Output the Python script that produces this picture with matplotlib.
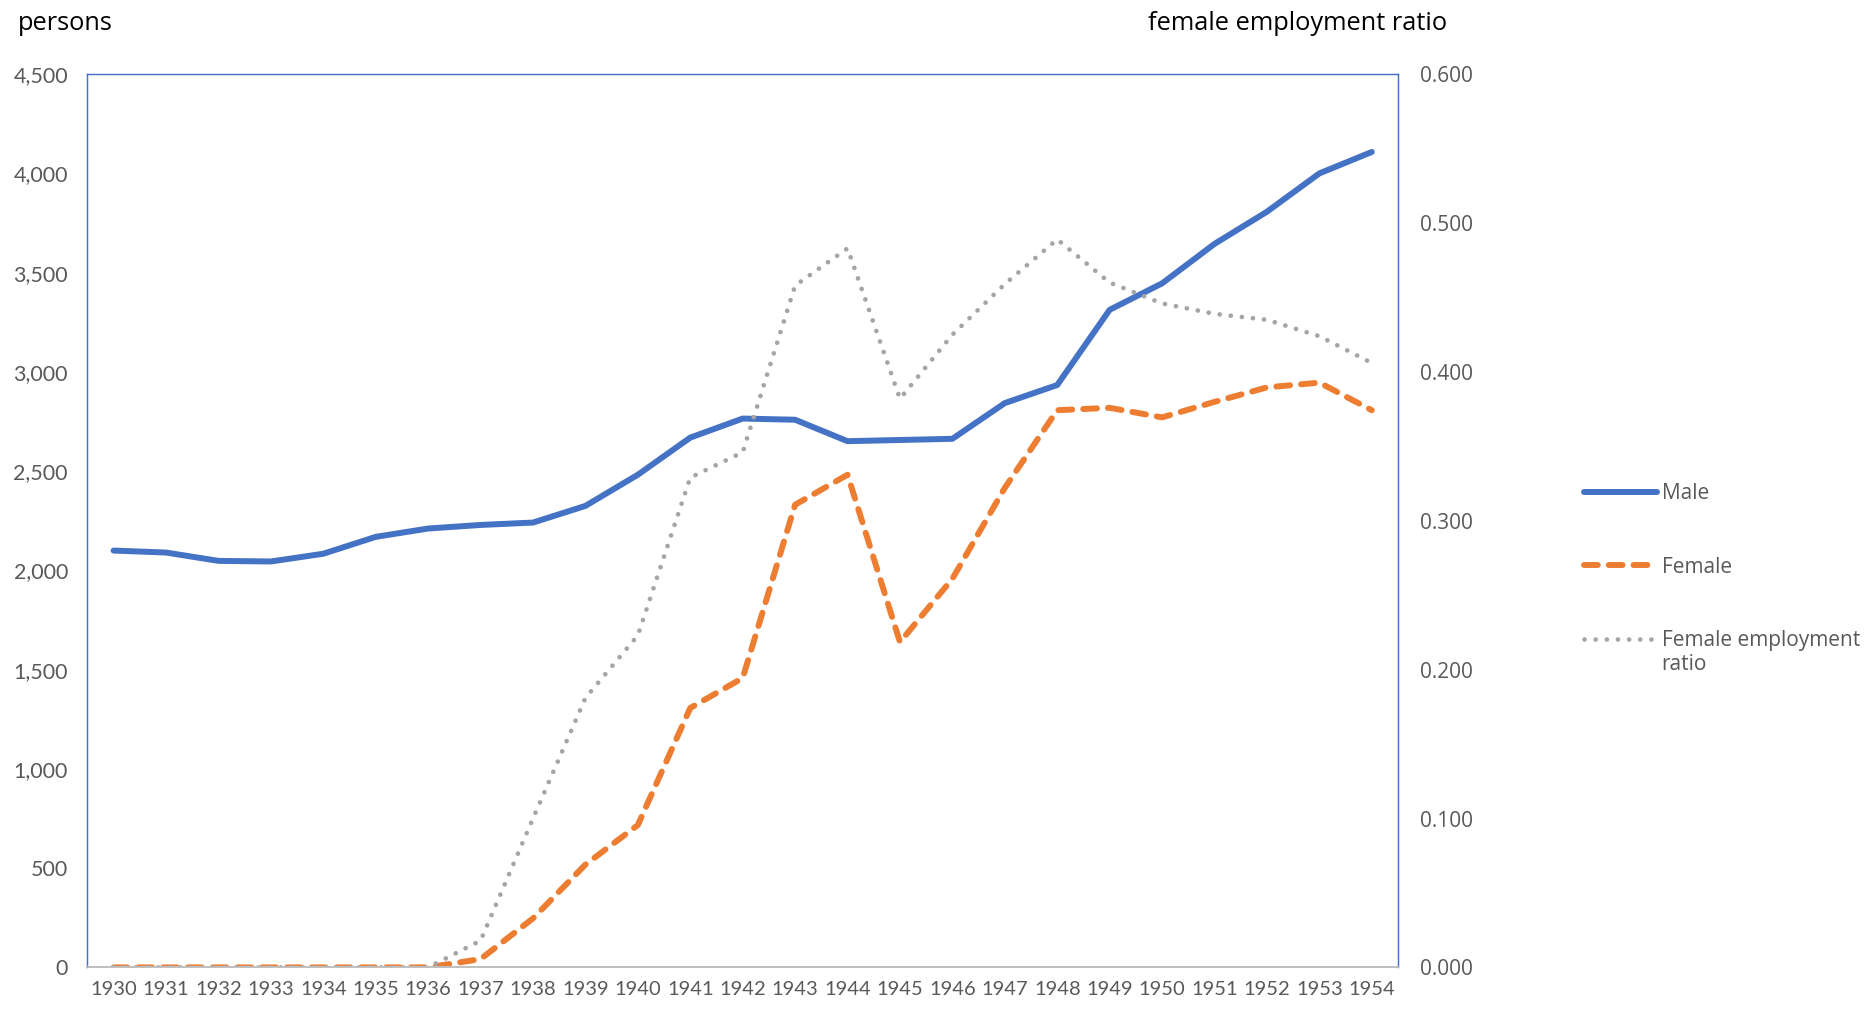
import matplotlib
matplotlib.use("Agg")
import matplotlib.pyplot as plt
from matplotlib.ticker import FuncFormatter, MultipleLocator
from matplotlib.legend_handler import HandlerLine2D

years = list(range(1930, 1955))
male = [2100, 2090, 2048, 2045, 2084, 2169, 2211, 2229, 2241, 2325, 2482, 2669,
        2765, 2759, 2651, 2657, 2663, 2843, 2934, 3313, 3446, 3645, 3807, 4000, 4108]
female = [0, 0, 0, 0, 0, 0, 0, 42, 247, 518, 717, 1307, 1458, 2331, 2482, 1639,
          1958, 2416, 2807, 2819, 2771, 2849, 2922, 2946, 2807]
ratio = [0, 0, 0, 0, 0, 0, 0, 0.018, 0.100, 0.181, 0.223, 0.329, 0.346, 0.458,
         0.483, 0.382, 0.425, 0.459, 0.489, 0.460, 0.446, 0.439, 0.435, 0.424, 0.406]

BLUE = "#4472C4"
ORANGE = "#ED7D31"
GRAY = "#A5A5A5"
TXT = "#595959"

plt.rcParams['font.family'] = ['Lato', 'DejaVu Sans']

fig = plt.figure(figsize=(18.75, 10.13), dpi=100)
ax = fig.add_axes([0.0466, 0.045, 0.699, 0.8818])
ax2 = ax.twinx()

x = list(range(len(years)))
l1, = ax.plot(x, male, color=BLUE, lw=4.3, solid_capstyle='round', solid_joinstyle='round', label='Male')
l2, = ax.plot(x, female, color=ORANGE, lw=4.3, dashes=(2.3, 1.85), dash_capstyle='round',
              label='Female')
l3, = ax2.plot(x, ratio, color=GRAY, lw=3.4, dashes=(0.01, 2.35), dash_capstyle='round',
               label='Female employment\nratio')

ax.set_xlim(-0.5, len(years) - 0.5)
ax.set_ylim(0, 4500)
ax2.set_ylim(0, 0.6)
ax.yaxis.set_major_locator(MultipleLocator(500))
ax2.yaxis.set_major_locator(MultipleLocator(0.1))
ax.yaxis.set_major_formatter(FuncFormatter(lambda v, p: f"{int(v):,}"))
ax2.yaxis.set_major_formatter(FuncFormatter(lambda v, p: f"{v:.3f}"))
ax.set_xticks(x)
ax.set_xticklabels([str(y) for y in years])

ax.tick_params(axis='y', length=0, pad=14, labelsize=15.5, labelcolor=TXT)
ax.tick_params(axis='x', length=0, pad=10, labelsize=14.5, labelcolor=TXT)
ax2.tick_params(axis='y', length=0, pad=16, labelsize=15, labelcolor=TXT)
for t in ax2.get_yticklabels():
    t.set_fontfamily(['Open Sans', 'DejaVu Sans'])

for a in (ax, ax2):
    for side in ('top', 'left', 'right'):
        a.spines[side].set_color(BLUE)
        a.spines[side].set_linewidth(0.9)
        a.spines[side].set_linestyle((0, (1, 1)))
    a.spines['bottom'].set_color('#BFBFBF')
    a.spines['bottom'].set_linewidth(1.2)
    a.spines['bottom'].set_linestyle((0, (1, 1)))

fig.text(0.0096, 0.977, "persons", fontsize=18.3, color='black', va='center', ha='left',
         family=['Open Sans', 'DejaVu Sans'])
fig.text(0.612, 0.977, "female employment ratio", fontsize=18.3, color='black', va='center',
         ha='left', family=['Open Sans', 'DejaVu Sans'])


class ShiftHandler(HandlerLine2D):
    def __init__(self, shift=0, **kw):
        super().__init__(**kw)
        self.shift = shift

    def create_artists(self, legend, orig_handle, xdescent, ydescent, width, height,
                       fontsize, trans):
        return super().create_artists(legend, orig_handle, xdescent, ydescent - 2 * self.shift,
                                      width, height, fontsize, trans)


leg = fig.legend([l1, l2, l3], ['Male', 'Female', 'Female employment\nratio'],
                 loc='upper left', bbox_to_anchor=(0.8446, 0.523), frameon=False,
                 handlelength=3.5, handletextpad=0.24,
                 labelspacing=2.52, borderpad=0, borderaxespad=0,
                 prop={'family': ['Open Sans', 'DejaVu Sans'], 'size': 15},
                 handler_map={l3: ShiftHandler(shift=10.5)})
for t in leg.get_texts():
    t.set_color(TXT)

fig.savefig("out.png", dpi=100)
